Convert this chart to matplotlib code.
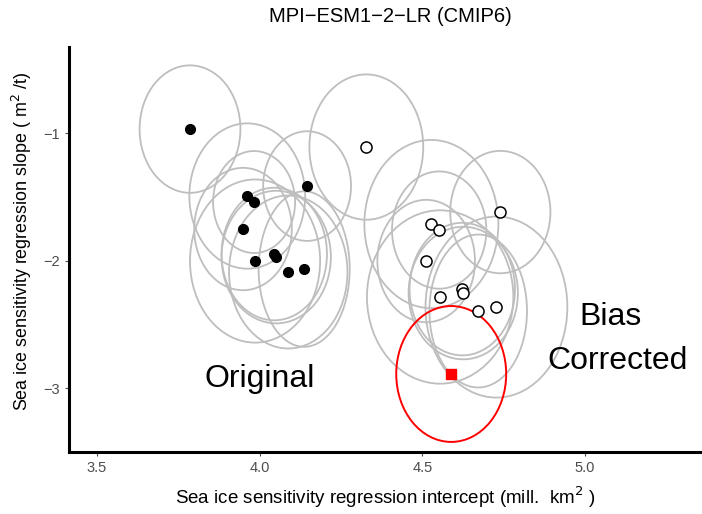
import matplotlib.pyplot as plt
from matplotlib.patches import Ellipse

plt.rcParams['font.family'] = ['Liberation Sans', 'DejaVu Sans']

# Original (filled) models: intercept, slope, ellipse semi-axes
orig_x = [3.786, 4.146, 3.962, 3.983, 3.949, 4.045, 4.051, 3.986, 4.088, 4.137]
orig_y = [-0.969, -1.416, -1.494, -1.541, -1.753, -1.949, -1.973, -2.004, -2.090, -2.067]
orig_a = [0.155, 0.135, 0.178, 0.126, 0.150, 0.162, 0.168, 0.200, 0.182, 0.140]
orig_b = [0.50, 0.43, 0.57, 0.40, 0.48, 0.52, 0.52, 0.64, 0.60, 0.61]

# Bias corrected (open) models
bc_x = [4.328, 4.740, 4.528, 4.552, 4.512, 4.623, 4.626, 4.555, 4.728, 4.672]
bc_y = [-1.110, -1.620, -1.714, -1.761, -2.004, -2.224, -2.255, -2.286, -2.365, -2.396]
bc_a = [0.175, 0.154, 0.206, 0.145, 0.150, 0.162, 0.168, 0.225, 0.218, 0.150]
bc_b = [0.57, 0.48, 0.66, 0.46, 0.48, 0.52, 0.52, 0.68, 0.71, 0.60]

# Observations
obs_x, obs_y = 4.589, -2.890
obs_a, obs_b = 0.169, 0.533

xticks = [3.5, 4.0, 4.5, 5.0]
yticks = [-1, -2, -3]

fig = plt.figure(figsize=(7.02, 5.14), dpi=100)
ax = fig.add_axes([69 / 702, 62 / 514, 633 / 702, 405 / 514])

grey = '#BEBEBE'
for x, y, a, b in zip(orig_x, orig_y, orig_a, orig_b):
    ax.add_patch(Ellipse((x, y), 2 * a, 2 * b, fill=False, edgecolor=grey, lw=1.3, zorder=1))
for x, y, a, b in zip(bc_x, bc_y, bc_a, bc_b):
    ax.add_patch(Ellipse((x, y), 2 * a, 2 * b, fill=False, edgecolor=grey, lw=1.3, zorder=1))
ax.add_patch(Ellipse((obs_x, obs_y), 2 * obs_a, 2 * obs_b, fill=False, edgecolor='red', lw=1.4, zorder=2))

ax.plot(orig_x, orig_y, 'o', color='black', markersize=7, zorder=3)
ax.plot(bc_x, bc_y, 'o', markerfacecolor='white', markeredgecolor='black',
        markeredgewidth=1.1, markersize=8, zorder=3)
ax.plot([obs_x], [obs_y], 's', color='red', markersize=7, zorder=4)

ax.text(4.0, -2.93, 'Original', fontsize=23, ha='center', va='center')
ax.text(5.08, -2.44, 'Bias', fontsize=23, ha='center', va='center')
ax.text(5.10, -2.79, 'Corrected', fontsize=23, ha='center', va='center')

ax.set_xlim(3.414, 5.36)
ax.set_ylim(-3.502, -0.325)
ax.set_xticks(xticks)
ax.set_xticklabels(['3.5', '4.0', '4.5', '5.0'])
ax.set_yticks(yticks)
ax.set_yticklabels(['\u22121', '\u22122', '\u22123'])
ax.tick_params(colors='#4D4D4D', labelsize=10.5, length=3, width=0.8)

for s in ['top', 'right']:
    ax.spines[s].set_visible(False)
for s in ['left', 'bottom']:
    ax.spines[s].set_linewidth(2.2)
    ax.spines[s].set_color('black')

ax.set_xlabel('Sea ice sensitivity regression intercept (mill.  km$^2$ )', fontsize=13.5, labelpad=7)
ax.set_ylabel('Sea ice sensitivity regression slope ( m$^2$ /t)', fontsize=12.9)
ax.yaxis.set_label_coords(-0.056, 0.52)
fig.text(390 / 702, 1 - 17 / 514, 'MPI\u2212ESM1\u22122\u2212LR (CMIP6)', fontsize=14.5,
         ha='center', va='center')

fig.savefig('out.png', dpi=100)
